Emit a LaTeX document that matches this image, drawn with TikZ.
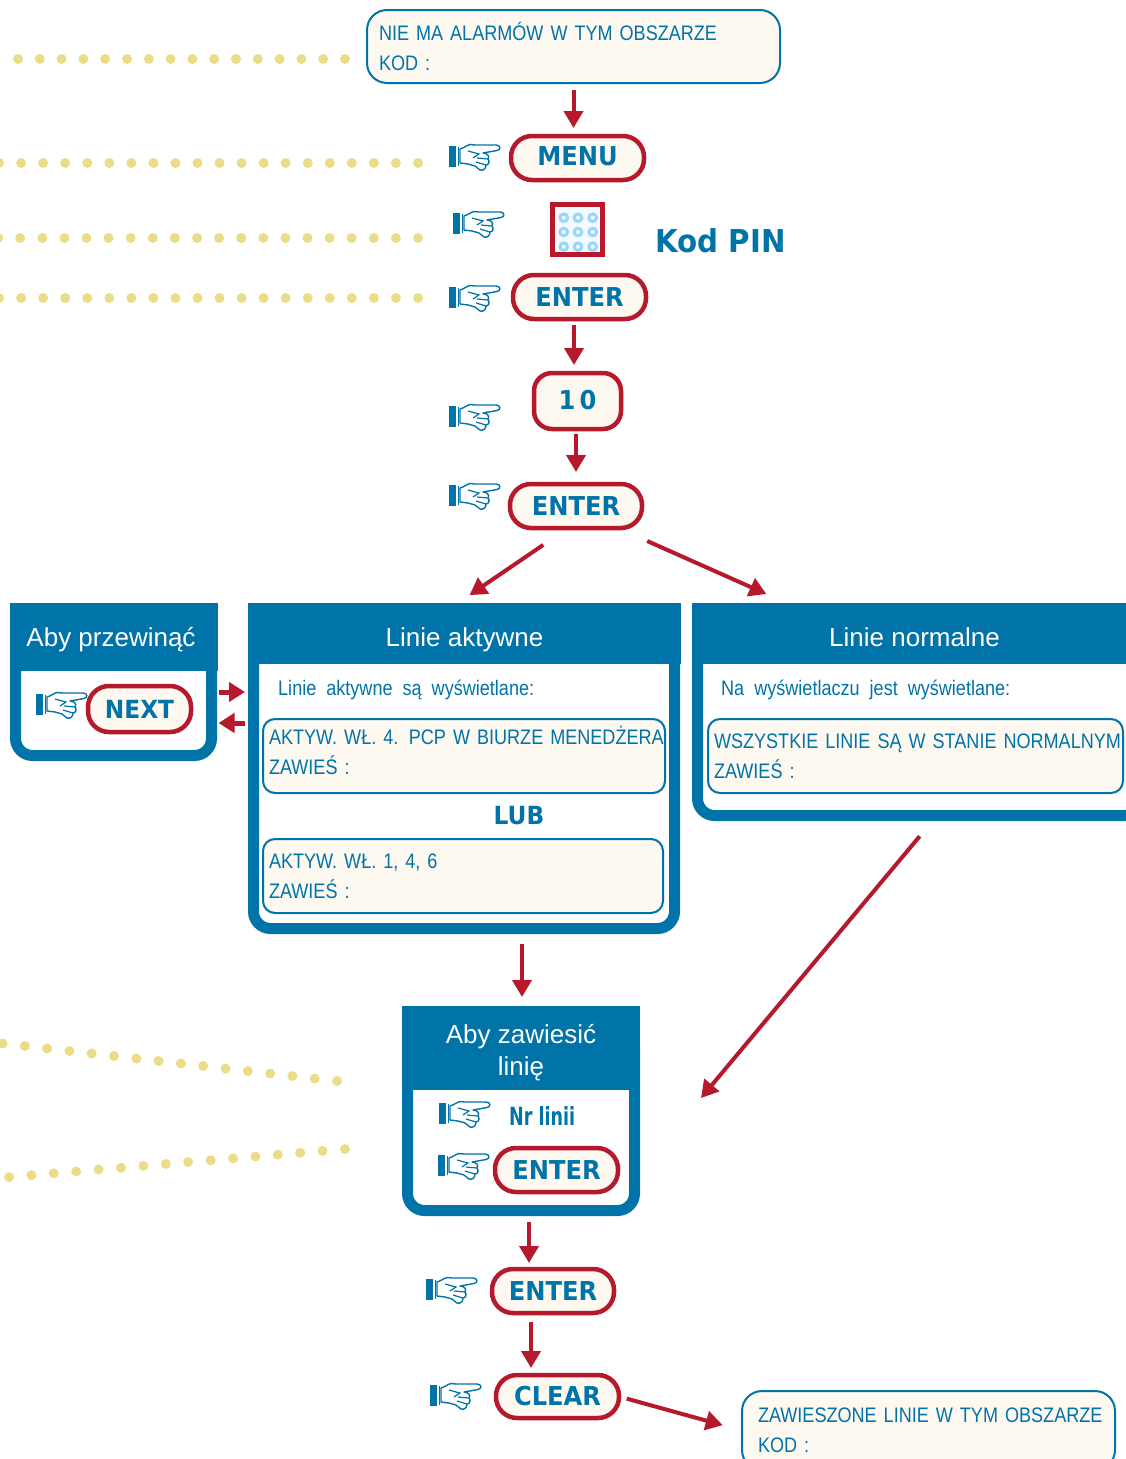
\documentclass[tikz,border=0pt]{standalone}
\usepackage{fontspec}
\usepackage{xcolor}
\usepackage{tikz}
\usetikzlibrary{arrows.meta}
\setmainfont{Liberation Sans}
\newfontfamily\lcdfont[FakeStretch=0.86,WordSpace=2]{Liberation Sans}
\newfontfamily\btnfont[FakeStretch=0.93]{DejaVu Sans}
\newfontfamily\nrfont[FakeStretch=0.7]{DejaVu Sans}
\definecolor{panelblue}{HTML}{0073A9}
\definecolor{arrowred}{HTML}{B5192B}
\definecolor{cream}{HTML}{FDF8F0}
\definecolor{dotyellow}{HTML}{EBDC88}
\definecolor{keyblue}{HTML}{9AD6F6}
\definecolor{keyface}{HTML}{F3F9FF}
\tikzset{
    btnbox/.style={draw=arrowred,line width=4.5pt,fill=cream,rounded corners=21pt,outer sep=0pt,inner sep=0pt,
        text=panelblue,font=\btnfont\fontsize{26}{30}\selectfont\bfseries},
    lcdbox/.style={draw=panelblue,line width=2pt,fill=cream,align=left,outer sep=0pt,inner xsep=6pt,inner ysep=0pt,
        text=panelblue,font=\lcdfont\fontsize{21}{30}\selectfont},
    panelbox/.style={draw=panelblue,line width=11pt,fill=white,rounded corners=17pt,outer sep=0pt,inner sep=0pt},
    headbox/.style={fill=panelblue,text=white,align=center,outer sep=0pt,inner sep=0pt,text depth=0pt,
        font=\fontsize{26}{32}\selectfont},
    flow/.style={draw=arrowred,line width=4pt,-{Triangle[length=17pt,width=19pt]}},
    sideflow/.style={draw=arrowred,line width=5pt,-{Triangle[length=16pt,width=19pt]}},
    dotrow/.style={fill=dotyellow},
    pointhand/.pic={
        \fill[panelblue] (0,-11) rectangle (7,10);
        \fill[panelblue] (8.5,-10) rectangle (10,9);
        \filldraw[draw=panelblue,fill=white,line width=1.4pt,line join=round]
            (11,-8) .. controls (15,-9) and (18,-12) .. (21,-12.5) -- (26,-12) -- (47,-12)
            .. controls (52,-12) and (52,-7) .. (48,-6.5) -- (34,-4)
            .. controls (38,-4) and (41,-1) .. (39,2) .. controls (41,4) and (40,8) .. (37,8)
            .. controls (37,12) and (34,14) .. (31,13) -- (26,9) -- (19,7) -- (11,6) -- cycle;
        \draw[panelblue,line width=1.2pt] (19,-6) -- (30,-3) -- (24,1) (28,1) -- (39,2)
            (27,5) -- (37,8);
    }
}
\begin{document}
\begin{tikzpicture}[x=1pt,y=-1pt]
    \useasboundingbox (0,0) rectangle (1126,1459);
    \clip (0,0) rectangle (1126,1459);
    % dotted rows
    \foreach \k in {0,...,15} \fill[dotrow] ({18+\k*21.8},59) circle (5);
    \foreach \k in {0,...,19} \fill[dotrow] ({418-\k*22.05},163) circle (5);
    \foreach \k in {0,...,19} \fill[dotrow] ({418-\k*22.1},238) circle (5);
    \foreach \k in {0,...,19} \fill[dotrow] ({418-\k*22.05},298) circle (5);
    \foreach \k in {0,...,15} \fill[dotrow] ({337-\k*22.3},{1081-\k*2.5}) circle (5);
    \foreach \k in {0,...,15} \fill[dotrow] ({345-\k*22.4},{1149+\k*1.87}) circle (5);

    % top column
    \node[lcdbox,inner xsep=12pt,rounded corners=20pt,minimum height=73pt,text width=389pt] (alarmbox) at (573.5,46.5) {NIE MA ALARMÓW W TYM OBSZARZE\\KOD :};
    \node[btnbox,minimum width=133pt,minimum height=44pt] (menubtn) at (577.5,158) {\raisebox{3pt}{MENU}};
    \node[draw=arrowred,line width=5pt,fill=keyface,outer sep=0pt,minimum width=50pt,minimum height=50pt] (keypad) at (577.5,229) {};
    \foreach \kx in {563.7,578,592.7}
        \foreach \ky in {217.7,232,246.7}
            \draw[keyblue,line width=3pt] (\kx,\ky) circle (3.8);
    \node[text=panelblue,font=\btnfont\fontsize{31.5}{34}\selectfont\bfseries,anchor=west,inner sep=0pt] (pinlabel) at (655,241) {Kod PIN};
    \node[btnbox,minimum width=133pt,minimum height=44pt] (enterb) at (579.5,297) {ENTER};
    \node[btnbox,rounded corners=18pt,minimum width=87pt,minimum height=56pt] (tenbtn) at (577.5,401) {\raisebox{3pt}{1\,0}};
    \node[btnbox,minimum width=132pt,minimum height=44pt] (enterc) at (576,506) {ENTER};

    % scroll panel
    \node[panelbox,minimum width=196pt,minimum height=135.5pt] (nextpanel) at (113.5,687.75) {};
    \node[headbox,text height=18pt,minimum width=208pt,minimum height=68pt] (nexthead) at (114,637) {\kern-6pt Aby przewinąć};
    \node[btnbox,minimum width=103pt,minimum height=46pt,font=\btnfont\fontsize{25}{30}\selectfont\bfseries] (nextbtn) at (139.5,709) {NEXT};

    % active lines panel
    \node[panelbox,minimum width=421pt,minimum height=308.5pt] (activepanel) at (464,774.25) {};
    \node[headbox,text height=25pt,minimum width=433pt,minimum height=61pt] (activehead) at (464.5,633.5) {Linie aktywne};
    \node[text=panelblue,font=\lcdfont\fontsize{21}{30}\selectfont,anchor=west,inner sep=0pt] (activetext) at (278,690) {Linie aktywne są wyświetlane:};
    \node[lcdbox,rounded corners=12pt,minimum height=74pt,text width=390pt] (activeone) at (464,756) {\mbox{AKTYW. WŁ. 4. PCP W BIURZE MENEDŻERA}\\ZAWIEŚ :\rule[-12pt]{0pt}{12pt}};
    \node[text=panelblue,font=\btnfont\fontsize{25}{30}\selectfont\bfseries,inner sep=0pt] (orlabel) at (519,816) {LUB};
    \node[lcdbox,rounded corners=12pt,minimum height=74pt,text width=388pt] (activetwo) at (463,876) {AKTYW. WŁ. 1, 4, 6\\ZAWIEŚ :};

    % normal lines panel
    \node[panelbox,minimum width=444pt,minimum height=195.5pt] (normalpanel) at (919.5,717.75) {};
    \node[headbox,text height=25pt,minimum width=445pt,minimum height=61pt] (normalhead) at (914.5,633.5) {Linie normalne};
    \node[text=panelblue,font=\lcdfont\fontsize{21}{30}\selectfont,anchor=west,inner sep=0pt] (normaltext) at (721,690) {Na wyświetlaczu jest wyświetlane:};
    \node[lcdbox,rounded corners=12pt,minimum height=74pt,text width=403pt] (normalone) at (915.5,756) {\mbox{WSZYSTKIE LINIE SĄ W STANIE NORMALNYM}\\ZAWIEŚ :};

    % suspend panel
    \node[panelbox,minimum width=227pt,minimum height=180.5pt] (suspendpanel) at (521,1120.25) {};
    \node[headbox,minimum width=238pt,minimum height=84pt] (suspendhead) at (521,1048) {\rule{0pt}{23pt}Aby zawiesić\\linię};
    \node[text=panelblue,font=\nrfont\fontsize{25}{30}\selectfont\bfseries,anchor=west,inner sep=0pt] (linelabel) at (509,1116) {Nr linii};
    \node[btnbox,minimum width=123pt,minimum height=44pt] (enterd) at (556.5,1170) {ENTER};

    % bottom column
    \node[btnbox,minimum width=122pt,minimum height=44pt] (entere) at (553,1291) {ENTER};
    \node[btnbox,minimum width=123pt,minimum height=43pt] (clearbtn) at (557.5,1396.5) {CLEAR};
    \node[lcdbox,inner xsep=16pt,rounded corners=20pt,minimum height=79pt,text width=341pt] (suspendedbox) at (928.5,1430.5) {\mbox{ZAWIESZONE LINIE W TYM OBSZARZE}\\KOD :};

    % hands
    \pic at (449,157) {pointhand};
    \pic at (453,224) {pointhand};
    \pic at (449,298) {pointhand};
    \pic at (449,417) {pointhand};
    \pic at (449,496) {pointhand};
    \pic at (36,705) {pointhand};
    \pic at (439,1114) {pointhand};
    \pic at (438,1166) {pointhand};
    \pic at (426,1290) {pointhand};
    \pic at (430,1396) {pointhand};

    % arrows
    \coordinate (suspendin) at (701,1098);
    \draw[flow,shorten <=7pt,shorten >=8pt] (alarmbox.south) -- ([xshift=-4pt]menubtn.north);
    \draw[flow,shorten <=6pt,shorten >=8pt] ([xshift=-5.5pt]enterb.south) -- ([xshift=-3.5pt]tenbtn.north);
    \draw[flow,shorten <=5pt,shorten >=12pt] ([xshift=-1.5pt]tenbtn.south) -- (enterc.north);
    \draw[flow,shorten <=30pt,shorten >=14pt] ([xshift=-8pt]enterc.south) -- ([xshift=-6.5pt]activehead.north);
    \draw[flow,shorten <=32pt,shorten >=22pt] ([xshift=42pt]enterc.south) -- ([xshift=-128pt]normalhead.north);
    \draw[sideflow] ([xshift=7pt,yshift=-4.25pt]nextpanel.east) -- ([xshift=-8.5pt,yshift=82.25pt]activepanel.west);
    \draw[sideflow] ([xshift=-8.5pt,yshift=51.25pt]activepanel.west) -- ([xshift=7pt,yshift=-35.25pt]nextpanel.east);
    \draw[flow,shorten <=15.5pt,shorten >=9pt] ([xshift=58pt]activepanel.south) -- ([xshift=1pt]suspendhead.north);
    \draw[flow,shorten <=27pt] ([xshift=17.5pt]normalpanel.south) -- (suspendin);
    \draw[flow,shorten <=11.5pt,shorten >=6pt] ([xshift=8pt]suspendpanel.south) -- ([xshift=-24pt]entere.north);
    \draw[flow,shorten <=9pt,shorten >=7pt] ([xshift=-22pt]entere.south) -- ([xshift=-26.5pt]clearbtn.north);
    \draw[flow,shorten <=8pt,shorten >=20pt] (clearbtn.east) -- (suspendedbox.west);
\end{tikzpicture}
\end{document}
